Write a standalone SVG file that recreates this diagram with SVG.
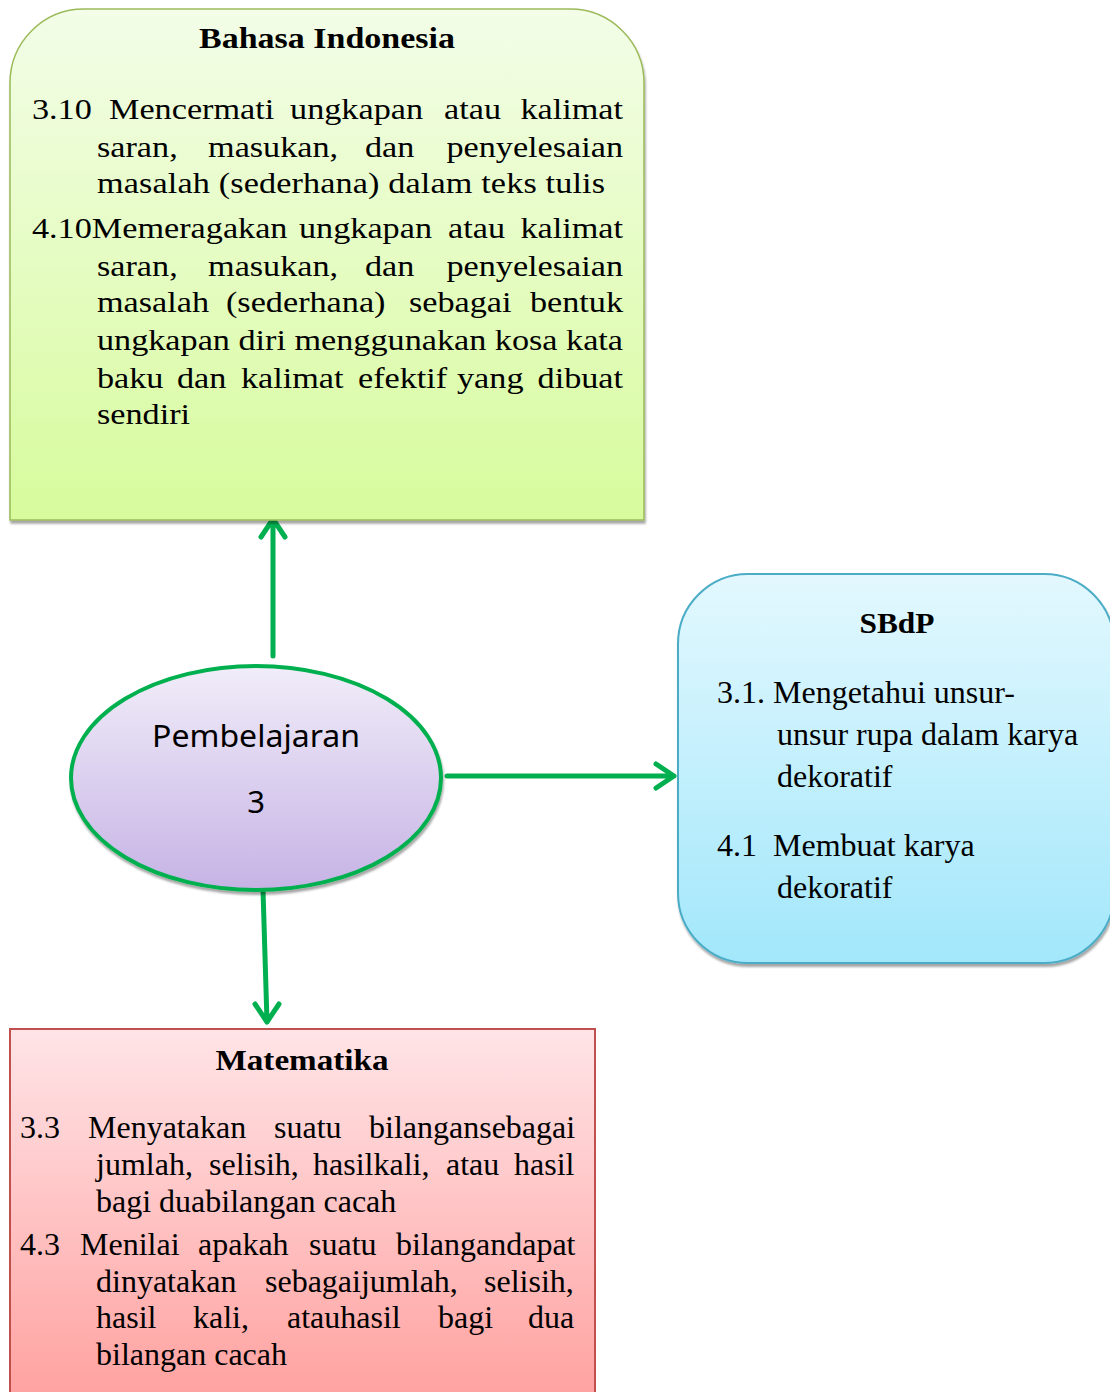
<svg xmlns="http://www.w3.org/2000/svg" width="1110" height="1392" viewBox="0 0 1110 1392">
<defs>
<linearGradient id="gGreen" x1="0" y1="0" x2="0" y2="1"><stop offset="0" stop-color="#f3fde8"/><stop offset="1" stop-color="#d7fb9c"/></linearGradient>
<linearGradient id="gBlue" x1="0" y1="0" x2="0" y2="1"><stop offset="0" stop-color="#e3f8fe"/><stop offset="1" stop-color="#a2e7fb"/></linearGradient>
<linearGradient id="gRed" x1="0" y1="0" x2="0" y2="1"><stop offset="0" stop-color="#ffe4e7"/><stop offset="1" stop-color="#ffa09e"/></linearGradient>
<linearGradient id="gPurple" x1="0" y1="0" x2="0" y2="1"><stop offset="0" stop-color="#f1edf9"/><stop offset="1" stop-color="#c6b3e5"/></linearGradient>
<filter id="sh" x="-5%" y="-5%" width="110%" height="115%"><feDropShadow dx="1" dy="3" stdDeviation="1" flood-color="#000" flood-opacity="0.35"/></filter>
</defs>
<style>
.serif{font-family:"Liberation Serif","Times New Roman",serif;fill:#000}
.t{font-size:29px}
.m{font-size:32px}
.b{font-weight:bold}
.conn{stroke:#00b050;stroke-width:5;fill:none;stroke-linecap:round;stroke-linejoin:round}
</style>
<g id="connectors">
<path class="conn" d="M273,656 L273,519 M261,537 L273,519 L285,537"/>
<path class="conn" d="M447,776 L674,776 M656,764 L674,776 L656,788"/>
<path class="conn" d="M263,890 L267,1022 M255,1004 L267,1022 L279,1004"/>
</g>
<g id="bahasa-indonesia">
<path d="M10,520 L10,83 A74,74 0 0 1 84,9 L570,9 A74,74 0 0 1 644,83 L644,520 Z" fill="url(#gGreen)" stroke="#9bbb59" stroke-width="1.5" filter="url(#sh)"/>
<text class="serif b" x="327" y="48" font-size="30" text-anchor="middle" textLength="256" lengthAdjust="spacingAndGlyphs">Bahasa Indonesia</text>
<g transform="scale(1.18,1)">
<text class="serif t" y="119"><tspan x="27.1">3.10</tspan><tspan x="92.4">Mencermati</tspan><tspan x="245.8">ungkapan</tspan><tspan x="376.3">atau</tspan><tspan x="528" text-anchor="end">kalimat</tspan></text>
<text class="serif t" y="157"><tspan x="82.2">saran,</tspan><tspan x="176.3">masukan,</tspan><tspan x="309.3">dan</tspan><tspan x="528" text-anchor="end">penyelesaian</tspan></text>
<text class="serif t" x="82.2" y="193" textLength="430.5" lengthAdjust="spacing">masalah (sederhana) dalam teks tulis</text>
<text class="serif t" y="238"><tspan x="27.1">4.10Memeragakan</tspan><tspan x="253.4">ungkapan</tspan><tspan x="379.7">atau</tspan><tspan x="528" text-anchor="end">kalimat</tspan></text>
<text class="serif t" y="276"><tspan x="82.2">saran,</tspan><tspan x="176.3">masukan,</tspan><tspan x="309.3">dan</tspan><tspan x="528" text-anchor="end">penyelesaian</tspan></text>
<text class="serif t" y="312"><tspan x="82.2">masalah</tspan><tspan x="191.5">(sederhana)</tspan><tspan x="346.6">sebagai</tspan><tspan x="528" text-anchor="end">bentuk</tspan></text>
<text class="serif t" x="82.2" y="350" textLength="445.8" lengthAdjust="spacing">ungkapan diri menggunakan kosa kata</text>
<text class="serif t" y="388"><tspan x="82.2">baku</tspan><tspan x="150">dan</tspan><tspan x="204.2">kalimat</tspan><tspan x="303.4">efektif</tspan><tspan x="387.3">yang</tspan><tspan x="528" text-anchor="end">dibuat</tspan></text>
<text class="serif t" x="82.2" y="424">sendiri</text>
</g>
</g>
<g id="pembelajaran">
<ellipse cx="256" cy="778" rx="185" ry="112" fill="url(#gPurple)" stroke="#00b050" stroke-width="4" filter="url(#sh)"/>
<text x="256" y="747" font-family="'Noto Sans','Open Sans',sans-serif" font-size="31" text-anchor="middle" textLength="208" lengthAdjust="spacingAndGlyphs">Pembelajaran</text>
<text x="256" y="813" font-family="'Noto Sans','Open Sans',sans-serif" font-size="31" text-anchor="middle">3</text>
</g>
<g id="sbdp">
<rect x="678" y="574" width="436" height="389" rx="70" ry="70" fill="url(#gBlue)" stroke="#4bacc6" stroke-width="2" filter="url(#sh)"/>
<text class="serif b" x="897" y="633" font-size="30" text-anchor="middle" textLength="75" lengthAdjust="spacingAndGlyphs">SBdP</text>
<text class="serif m" y="703"><tspan x="717">3.1.</tspan><tspan x="773">Mengetahui unsur-</tspan></text>
<text class="serif m" x="777" y="745">unsur rupa dalam karya</text>
<text class="serif m" x="777" y="787">dekoratif</text>
<text class="serif m" y="856"><tspan x="717">4.1</tspan><tspan x="773">Membuat karya</tspan></text>
<text class="serif m" x="777" y="898">dekoratif</text>
</g>
<g id="matematika">
<rect x="10" y="1029" width="585" height="380" fill="url(#gRed)" stroke="#c0504d" stroke-width="2"/>
<text class="serif b" x="302" y="1070" font-size="30" text-anchor="middle" textLength="173" lengthAdjust="spacingAndGlyphs">Matematika</text>
<text class="serif m" y="1138"><tspan x="20">3.3</tspan><tspan x="88">Menyatakan</tspan><tspan x="274">suatu</tspan><tspan x="369">bilangansebagai</tspan></text>
<text class="serif m" y="1175"><tspan x="96">jumlah,</tspan><tspan x="209">selisih,</tspan><tspan x="313">hasilkali,</tspan><tspan x="446">atau</tspan><tspan x="514">hasil</tspan></text>
<text class="serif m" x="96" y="1212">bagi duabilangan cacah</text>
<text class="serif m" y="1255"><tspan x="20">4.3</tspan><tspan x="80">Menilai</tspan><tspan x="198">apakah</tspan><tspan x="309">suatu</tspan><tspan x="396">bilangandapat</tspan></text>
<text class="serif m" y="1292"><tspan x="96">dinyatakan</tspan><tspan x="265">sebagaijumlah,</tspan><tspan x="484">selisih,</tspan></text>
<text class="serif m" y="1328"><tspan x="96">hasil</tspan><tspan x="193">kali,</tspan><tspan x="287">atauhasil</tspan><tspan x="438">bagi</tspan><tspan x="528">dua</tspan></text>
<text class="serif m" x="96" y="1365">bilangan cacah</text>
</g>
</svg>
